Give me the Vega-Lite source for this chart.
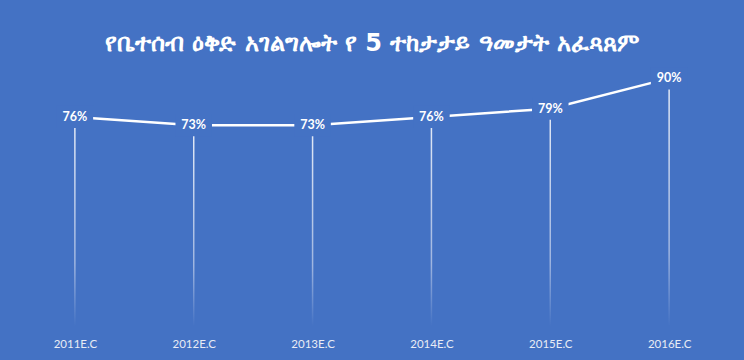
{
  "$schema": "https://vega.github.io/schema/vega-lite/v6.json",
  "width": 744,
  "height": 326,
  "autosize": "none",
  "padding": {"top": 0, "left": 0, "right": 0, "bottom": 34},
  "background": "#4472C4",
  "config": {"view": {"stroke": null}, "font": "Lato"},
  "title": {
    "text": "የቤተሰብ ዕቅድ አገልግሎት የ 5 ተከታታይ ዓመታት አፈጻጸም",
    "color": "#FFFFFF",
    "fontSize": 24,
    "fontWeight": "bold",
    "font": "DejaVu Sans",
    "anchor": "middle",
    "baseline": "middle",
    "offset": -68
  },
  "data": {
    "values": [
      {"year": "2011E.C", "value": 76, "label": "76%"},
      {"year": "2012E.C", "value": 73, "label": "73%"},
      {"year": "2013E.C", "value": 73, "label": "73%"},
      {"year": "2014E.C", "value": 76, "label": "76%"},
      {"year": "2015E.C", "value": 79, "label": "79%"},
      {"year": "2016E.C", "value": 90, "label": "90%"}
    ]
  },
  "encoding": {
    "x": {
      "field": "year",
      "type": "ordinal",
      "scale": {"type": "point", "padding": 0.63},
      "axis": {
        "title": null,
        "domain": false,
        "ticks": false,
        "labelAngle": 0,
        "labelBaseline": "middle",
        "labelPadding": 18,
        "labelColor": "#E8ECF5",
        "labelFontSize": 11.5,
        "labelFont": "Lato"
      }
    },
    "y": {
      "field": "value",
      "type": "quantitative",
      "scale": {"domain": [0, 118.5], "nice": false, "zero": true},
      "axis": null
    }
  },
  "layer": [
    {
      "mark": {
        "type": "bar",
        "width": 1.5,
        "fill": {
          "gradient": "linear",
          "x1": 0, "y1": 0, "x2": 0, "y2": 1,
          "stops": [
            {"offset": 0, "color": "#E6ECF7"},
            {"offset": 0.7, "color": "#9FB5E0"},
            {"offset": 1, "color": "#4472C4"}
          ]
        }
      }
    },
    {
      "mark": {"type": "line", "color": "#FFFFFF", "strokeWidth": 2.5}
    },
    {
      "mark": {
        "type": "point",
        "shape": "M-1.4,-0.85H1.4V0.85H-1.4Z",
        "size": 680,
        "filled": true,
        "fill": "#4472C4",
        "opacity": 1,
        "strokeWidth": 0
      }
    },
    {
      "mark": {
        "type": "text",
        "font": "Lato",
        "fontSize": 12.5,
        "fontWeight": "bold",
        "color": "#FFFFFF"
      },
      "encoding": {"text": {"field": "label", "type": "nominal"}}
    }
  ]
}
